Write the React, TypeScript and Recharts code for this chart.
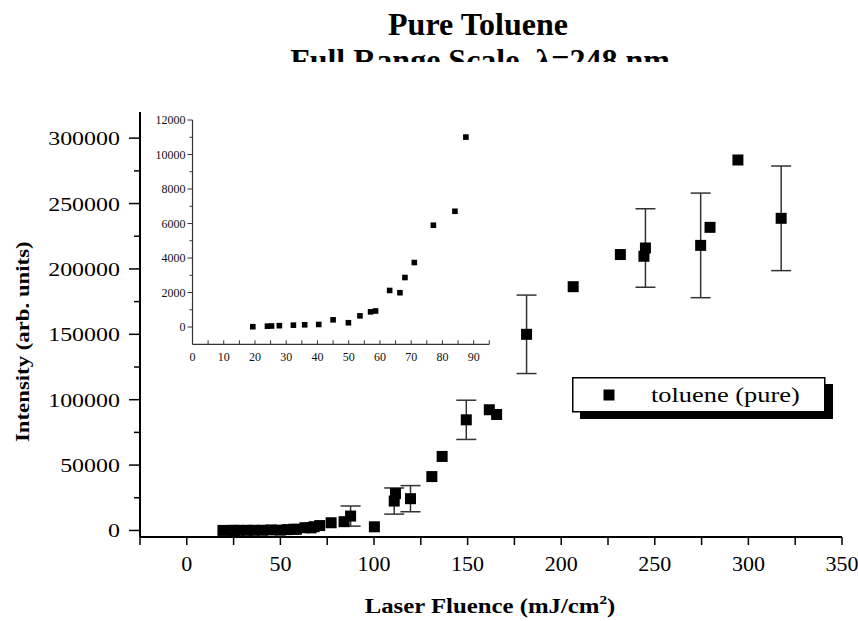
import { ErrorBar, Legend, Scatter, ScatterChart, XAxis, YAxis } from 'recharts';

const serif = "'Liberation Serif', 'Times New Roman', serif";

// laser fluence (mJ/cm2) and measured intensity (arb. units)
const fluence = [
  19.3, 24, 25.3, 27.8, 32.3, 35.9, 40.4, 45, 49.9, 53.6, 57, 58.6, 63.1, 66.4, 68, 71, 77.1, 84, 87.5,
  100.2, 110.8, 111.5, 119.5, 130.9, 136.4, 149.3, 161.6, 165.5, 181.5, 206.4, 231.6, 244.2, 245, 274.5,
  279.5, 294.4, 317.5,
];
const intensity = [
  20, 50, 60, 80, 110, 130, 150, 420, 250, 650, 880, 930, 2120, 1990, 2870, 3740, 5900, 6710, 11010,
  2800, 22500, 28200, 24300, 41200, 56600, 84600, 92300, 88700, 150000, 186400, 211000, 209700, 216000,
  218000, 231800, 283300, 238700,
];
const intensityError = [
  0, 0, 0, 0, 0, 0, 0, 0, 0, 0, 0, 0, 0, 0, 0, 0, 0, 0, 7700,
  0, 10000, 0, 10000, 0, 0, 15000, 0, 0, 30000, 0, 0, 0, 30000, 40000, 0, 0, 40000,
];

const mainXTicks = [-25, 0, 25, 50, 75, 100, 125, 150, 175, 200, 225, 250, 275, 300, 325, 350];
const mainYTicks = [0, 25000, 50000, 75000, 100000, 125000, 150000, 175000, 200000, 225000, 250000, 275000, 300000];
const insetXTicks = [0, 5, 10, 15, 20, 25, 30, 35, 40, 45, 50, 55, 60, 65, 70, 75, 80, 85, 90, 95];
const insetYTicks = [-1000, 0, 1000, 2000, 3000, 4000, 5000, 6000, 7000, 8000, 9000, 10000, 11000, 12000];

const rows = fluence.map((x, i) => ({ x, y: intensity[i], err: intensityError[i] }));
const plainRows = rows.filter((r) => r.err === 0);
const errorRows = rows.filter((r) => r.err > 0);
const insetRows = rows.filter((r) => r.x <= 95);

const BigSquare = (p: any) => <rect x={p.cx - 5.5} y={p.cy - 5.5} width={11} height={11} fill="#000" />;
const SmallSquare = (p: any) => <rect x={p.cx - 2.8} y={p.cy - 2.8} width={5.6} height={5.6} fill="#000" />;

function MainXTick({ x, y, payload }: any) {
  const v = payload.value;
  return (
    <g>
      <line x1={x} x2={x} y1={y} y2={y + 8} stroke="#000" strokeWidth={1.5} />
      {v % 50 === 0 && (
        <text transform={`translate(${x},${y + 34}) scale(1.1,1)`} textAnchor="middle" fontSize={20} fontFamily={serif} fill="#000">
          {v}
        </text>
      )}
    </g>
  );
}

function MainYTick({ x, y, payload }: any) {
  const v = payload.value;
  const major = v % 50000 === 0;
  return (
    <g>
      <line x1={x - (major ? 11 : 6)} x2={x} y1={y} y2={y} stroke="#000" strokeWidth={1.5} />
      {major && (
        <text transform={`translate(${x - 20},${y + 7}) scale(1.26,1)`} textAnchor="end" fontSize={19} fontFamily={serif} fill="#000">
          {v}
        </text>
      )}
    </g>
  );
}

function InsetXTick({ x, y, payload }: any) {
  const v = payload.value;
  return (
    <g>
      <line x1={x} x2={x} y1={y} y2={y - 4} stroke="#333" strokeWidth={1} />
      {v % 10 === 0 && (
        <text x={x} y={y + 17} textAnchor="middle" fontSize={12} fontFamily={serif} fill="#111">
          {v}
        </text>
      )}
    </g>
  );
}

function InsetYTick({ x, y, payload }: any) {
  const v = payload.value;
  const major = v % 2000 === 0;
  if (v < 0) return <g />;
  return (
    <g>
      <line x1={x - (major ? 5 : 3)} x2={x} y1={y} y2={y} stroke="#333" strokeWidth={1} />
      {major && (
        <text x={x - 7} y={y + 4} textAnchor="end" fontSize={12} fontFamily={serif} fill="#111">
          {v}
        </text>
      )}
    </g>
  );
}

function LegendBox() {
  return (
    <svg width={264} height={44} style={{ display: 'block' }}>
      <rect x={8} y={7} width={253} height={35} fill="#000" />
      <rect x={0.75} y={0.75} width={252} height={34} fill="#fff" stroke="#000" strokeWidth={1.5} />
      <rect x={31.5} y={12.5} width={11} height={11} fill="#000" />
      <text transform="translate(79,25) scale(1.2,1)" fontSize={22} fontFamily={serif} fill="#000">
        toluene (pure)
      </text>
    </svg>
  );
}

export default function App() {
  return (
    <div style={{ position: 'absolute', left: 0, top: 0, width: 858, height: 621, background: '#fff' }}>
      <ScatterChart width={858} height={621} margin={{ top: 112, right: 16, bottom: 0, left: 0 }}>
        <XAxis
          type="number"
          dataKey="x"
          domain={[-25, 350]}
          ticks={mainXTicks}
          interval={0}
          allowDataOverflow
          height={84}
          tickSize={0}
          tickMargin={0}
          tickLine={false}
          tick={<MainXTick />}
          axisLine={{ stroke: '#000', strokeWidth: 2 }}
        />
        <YAxis
          type="number"
          dataKey="y"
          domain={[-5000, 320000]}
          ticks={mainYTicks}
          interval={0}
          allowDataOverflow
          width={140}
          tickSize={0}
          tickMargin={0}
          tickLine={false}
          tick={<MainYTick />}
          axisLine={{ stroke: '#000', strokeWidth: 2 }}
        />
        <Legend
          layout="horizontal"
          verticalAlign="middle"
          align="center"
          content={() => <LegendBox />}
          wrapperStyle={{ position: 'absolute', left: 572, top: 377, width: 264, height: 44, bottom: 'auto', right: 'auto' }}
        />
        <Scatter name="toluene (pure)" data={plainRows} shape={BigSquare} isAnimationActive={false} />
        <Scatter name="toluene errors" data={errorRows} shape={BigSquare} legendType="none" isAnimationActive={false}>
          <ErrorBar dataKey="err" direction="y" width={10} stroke="#333" strokeWidth={1.5} isAnimationActive={false} />
        </Scatter>
      </ScatterChart>

      <div style={{ position: 'absolute', left: 100, top: 100 }}>
        <ScatterChart width={400} height={280} margin={{ top: 20, right: 10.7, bottom: 0, left: 0 }}>
          <XAxis
            type="number"
            dataKey="x"
            domain={[0, 95]}
            ticks={insetXTicks}
            interval={0}
            allowDataOverflow
            height={35.7}
            tickSize={0}
            tickMargin={0}
            tickLine={false}
            tick={<InsetXTick />}
            axisLine={{ stroke: '#333', strokeWidth: 1.2 }}
          />
          <YAxis
            type="number"
            dataKey="y"
            domain={[-1000, 12000]}
            ticks={insetYTicks}
            interval={0}
            allowDataOverflow
            width={92.5}
            tickSize={0}
            tickMargin={0}
            tickLine={false}
            tick={<InsetYTick />}
            axisLine={{ stroke: '#333', strokeWidth: 1.2 }}
          />
          <Scatter data={insetRows} shape={SmallSquare} isAnimationActive={false} />
        </ScatterChart>
      </div>

      <svg width={858} height={621} style={{ position: 'absolute', left: 0, top: 0, pointerEvents: 'none' }}>
        <defs>
          <clipPath id="titleClip">
            <rect x={0} y={0} width={858} height={62} />
          </clipPath>
        </defs>
        <text x={478} y={35} textAnchor="middle" fontSize={32} fontWeight="bold" fontFamily={serif}>
          Pure Toluene
        </text>
        <text x={480} y={70.5} textAnchor="middle" fontSize={32} fontWeight="bold" fontFamily={serif} clipPath="url(#titleClip)">
          Full Range Scale, λ=248 nm
        </text>
        <text transform="translate(29,341.7) rotate(-90) scale(1.2,1)" textAnchor="middle" fontSize={19} fontWeight="bold" fontFamily={serif}>
          Intensity (arb. units)
        </text>
        <text transform="translate(490,613) scale(1.18,1)" textAnchor="middle" fontSize={21} fontWeight="bold" fontFamily={serif}>
          Laser Fluence (mJ/cm
          <tspan fontSize={13} dy={-9}>2</tspan>
          <tspan dy={9}>)</tspan>
        </text>
      </svg>
    </div>
  );
}
